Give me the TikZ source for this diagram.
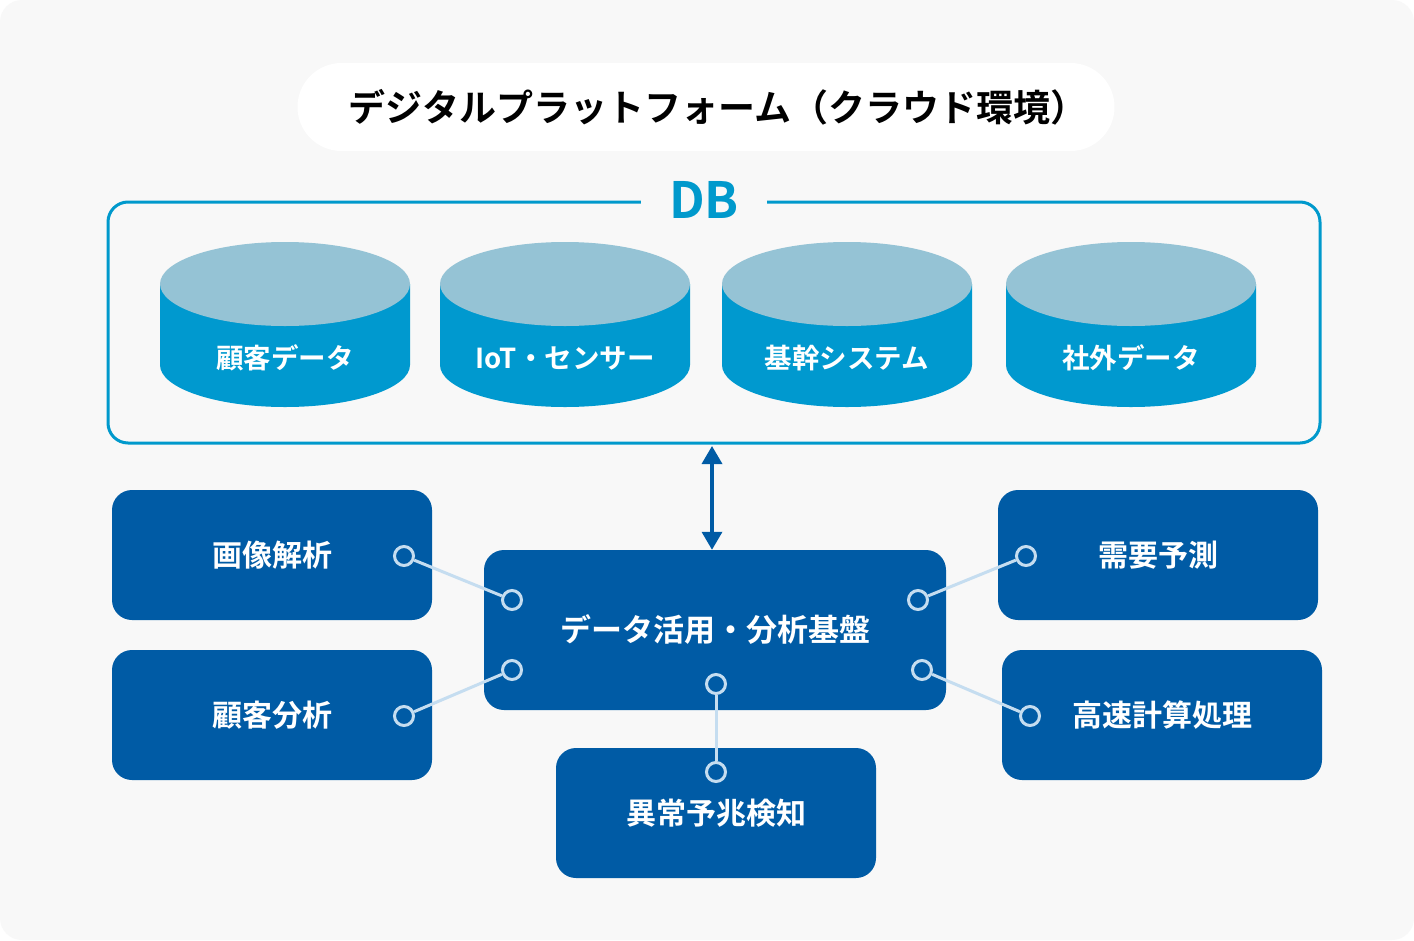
\documentclass[tikz,border=0pt]{standalone}
\usepackage{fontspec}
\setmainfont{Noto Sans CJK JP}[BoldFont={Noto Sans CJK JP Bold}]
\usepackage{xcolor}
\usepackage{tikz}
\usetikzlibrary{arrows.meta}
\definecolor{paper}{HTML}{F8F8F8}
\definecolor{dbline}{HTML}{0099CC}
\definecolor{cyltop}{HTML}{95C3D5}
\definecolor{cylbody}{HTML}{0099CF}
\definecolor{scheme}{HTML}{005BA5}
\definecolor{link}{HTML}{C5DDF0}

\tikzset{
	app/.style={fill=scheme,rounded corners=20pt,minimum width=320pt,minimum height=130pt,inner sep=0pt,text=white,font=\bfseries\fontsize{30pt}{30pt}\selectfont},
	pin/.style={circle,draw=link,fill=scheme,line width=3pt,minimum size=19pt,inner sep=0pt},
	wire/.style={draw=link,line width=3pt},
	cyllabel/.style={text=white,font=\bfseries\fontsize{27.5pt}{27.5pt}\selectfont}
}

\begin{document}
\begin{tikzpicture}[x=1pt,y=-1pt]
				\useasboundingbox (0,0) rectangle (1414,940);
				\fill[white] (0,0) rectangle (1414,940);
				\fill[paper,rounded corners=22pt] (0,0) rectangle (1414,940);
				
				% title
				\node[fill=white,rounded corners=44pt,minimum width=817pt,minimum height=88pt] (title) at (706,107) {};
				\node[font=\bfseries\fontsize{37pt}{37pt}\selectfont] (titletext) at ([xshift=12pt]title.center) {デジタルプラットフォーム（クラウド環境）};
				
				% DB frame
				\node[draw=dbline,line width=3pt,rounded corners=20pt,minimum width=1212pt,minimum height=241pt] (dbbox) at (714,322.5) {};
				\node[fill=paper,text=dbline,inner xsep=28pt,inner ysep=0pt,font=\bfseries\fontsize{50pt}{50pt}\selectfont] (dbname) at (704,200) {DB};
				
				% cylinders
				\foreach \cx/\name/\txt in {285/c1/顧客データ,565/c2/IoT・センサー,847/c3/基幹システム,1131/c4/社外データ}{
					\fill[cylbody] (\cx-125,284) -- (\cx-125,365) arc[start angle=180,end angle=360,x radius=125,y radius=-42] -- (\cx+125,284) -- cycle;
					\fill[cyltop] (\cx,284) ellipse[x radius=125,y radius=42];
					\node[cyllabel] (\name) at (\cx,358) {\txt};
				}
				
				% platform and applications
				\node[app,minimum width=462pt,minimum height=160pt,font=\bfseries\fontsize{31pt}{31pt}\selectfont] (core) at (715,630) {データ活用・分析基盤};
				\node[app] (image) at (272,555) {画像解析};
				\node[app] (customer) at (272,715) {顧客分析};
				\node[app] (demand) at (1158,555) {需要予測};
				\node[app] (fast) at (1162,715) {高速計算処理};
				\node[app] (anomaly) at (716,813) {異常予兆検知};
				
				\draw[scheme,line width=3.5pt,{Triangle[width=20pt,length=18pt]}-{Triangle[width=20pt,length=18pt]}] (dbbox.south) ++(0,1.5) coordinate (arrtop) (arrtop -| 712,0) -- (712,0 |- core.north);
				
				% pins
				\node[pin] (p1) at (404,556) {};
				\node[pin] (q1) at (512,600) {};
				\node[pin] (p2) at (404,716) {};
				\node[pin] (q2) at (512,670) {};
				\node[pin] (p3) at (1026,556) {};
				\node[pin] (q3) at (918,600) {};
				\node[pin] (p4) at (1030,716) {};
				\node[pin] (q4) at (922,670) {};
				\node[pin] (p5) at (716,772) {};
				\node[pin] (q5) at (716,684) {};
				
				\foreach \a/\b in {p1/q1,p2/q2,p3/q3,p4/q4,p5/q5}
					\draw[wire] (\a) -- (\b);
				
			\end{tikzpicture}
\end{document}
